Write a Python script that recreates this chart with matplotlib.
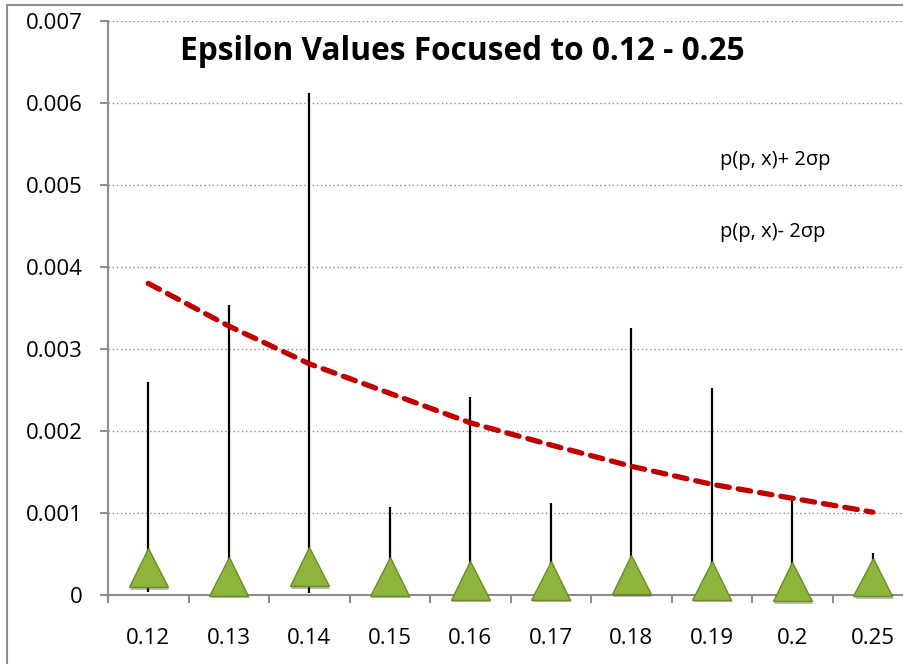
import matplotlib
matplotlib.use("Agg")
import matplotlib.pyplot as plt
import matplotlib.patheffects as pe
from matplotlib.patches import Rectangle
import numpy as np

plt.rcParams['font.family'] = ['Open Sans', 'DejaVu Sans']

categories = ["0.12", "0.13", "0.14", "0.15", "0.16", "0.17", "0.18", "0.19", "0.2", "0.25"]
epsilon_mean = [0.00033, 0.00023, 0.00035, 0.00023, 0.00018, 0.00018, 0.00025, 0.00018, 0.00016, 0.00022]
upper_2sigma = [0.00260, 0.00354, 0.00612, 0.00107, 0.00241, 0.00112, 0.00326, 0.00252, 0.00116, 0.00051]
lower_2sigma = [0.00004, 0.00002, 0.00002, 0.00002, 0.00002, 0.00002, 0.00002, 0.00002, 0.00002, 0.00002]
trend_curve = [0.00380, 0.00328, 0.00282, 0.00246, 0.00210, 0.00183, 0.00157, 0.00135, 0.00118, 0.00101]
y_ticks = [0, 0.001, 0.002, 0.003, 0.004, 0.005, 0.006, 0.007]
y_tick_labels = ["0", "0.001", "0.002", "0.003", "0.004", "0.005", "0.006", "0.007"]

W, H = 904, 664
fig = plt.figure(figsize=(W / 100, H / 100), dpi=100)
ax = fig.add_axes([108 / W, (H - 595) / H, (913 - 108) / W, (595 - 21) / H])

x = np.arange(len(categories))
gray = "#8c8c8c"

ax.set_ylim(0, 0.007)
ax.set_xlim(-0.5, len(categories) - 0.5)
ax.set_yticks(y_ticks)
ax.set_yticklabels(y_tick_labels)
ax.yaxis.grid(True, color="#8a8a8a", linestyle=(0, (1, 2)), linewidth=1.0)
ax.set_axisbelow(True)

for s in ["top", "right"]:
    ax.spines[s].set_visible(False)
for s in ["left", "bottom"]:
    ax.spines[s].set_color(gray)
    ax.spines[s].set_linewidth(1.5)

ax.set_xticks(x)
ax.set_xticklabels(categories)
ax.set_xticks(np.arange(len(categories)) - 0.5, minor=True)
ax.tick_params(axis="x", which="major", length=0, pad=24, labelsize=16)
ax.tick_params(axis="x", which="minor", length=6, width=1.5, color=gray, direction="out")
ax.tick_params(axis="y", length=6, width=1.5, color=gray, pad=12, labelsize=16)

ax.vlines(x, lower_2sigma, upper_2sigma, color="black", linewidth=1.6, zorder=3)

ax.plot(x, trend_curve, color="#c00000", linewidth=3.8,
        linestyle=(0, (2.4, 1.7)), dash_capstyle="round", zorder=4)

ax.plot(x, epsilon_mean, linestyle="none", marker="^", markersize=28,
        markerfacecolor="#8db53c", markeredgecolor="#6a8c24", markeredgewidth=1.0,
        zorder=5, clip_on=False,
        path_effects=[pe.SimplePatchShadow(offset=(1, -2), shadow_rgbFace="#444444", alpha=0.35),
                      pe.Normal()])

ax.set_title("Epsilon Values Focused to 0.12 - 0.25", fontsize=22.8, fontweight="bold",
             x=(462 - 108) / (913 - 108), y=(595 - 52) / 574, va="center", pad=0)

fig.text(720 / W, 1 - 160 / H, "p(p, x)+ 2σp", fontsize=14.5, va="center", ha="left")
fig.text(720 / W, 1 - 232 / H, "p(p, x)- 2σp", fontsize=14.5, va="center", ha="left")

fig.patches.append(Rectangle((7 / W, -0.1), 1.2, 1 - 5 / H + 0.1, transform=fig.transFigure,
                             fill=False, edgecolor="#8c8c8c", linewidth=1.5))

fig.savefig("out.png", dpi=100)
